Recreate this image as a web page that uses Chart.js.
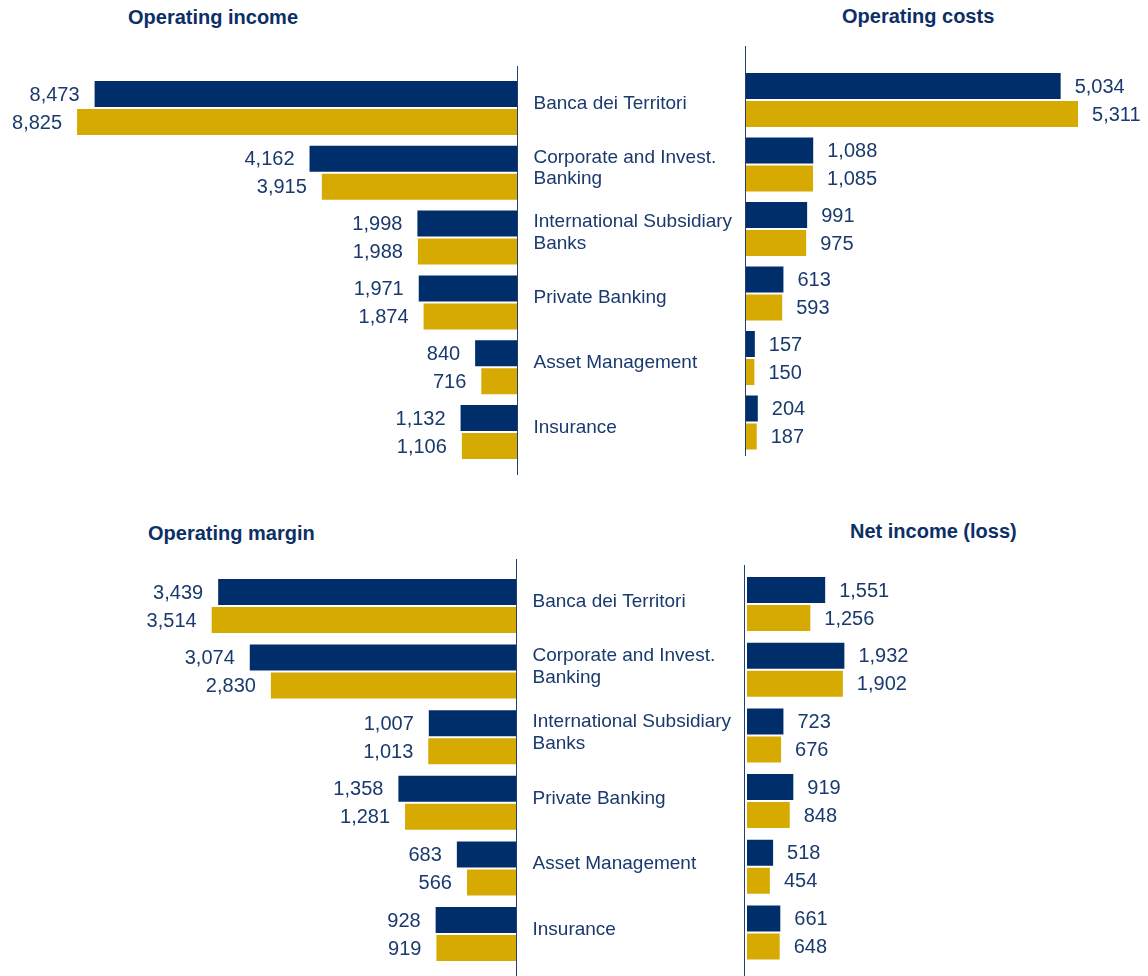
<!DOCTYPE html>
<html lang="en">
<head>
<meta charset="UTF-8">
<title>Divisional results</title>
<script src="https://cdn.jsdelivr.net/npm/chart.js"></script>
<style>
  body { margin: 0; background: #fff; }
  #wrap { position: relative; width: 1148px; height: 976px; overflow: hidden; }
  #wrap canvas { position: absolute; left: 0; top: 0; }
  .ttl { position: absolute; font: bold 20px/20px "Liberation Sans", Arial, sans-serif; color: #0c2f66; white-space: nowrap; }
</style>
</head>
<body>
<div id="wrap">
  <div class="ttl" style="left:128px;top:7px">Operating income</div>
  <div class="ttl" style="left:842px;top:6px">Operating costs</div>
  <div class="ttl" style="left:148px;top:523px">Operating margin</div>
  <div class="ttl" style="left:850px;top:521px">Net income (loss)</div>
  <canvas id="incomeChart" width="1148" height="976"></canvas>
  <canvas id="costsChart" width="1148" height="976"></canvas>
  <canvas id="marginChart" width="1148" height="976"></canvas>
  <canvas id="netChart" width="1148" height="976"></canvas>
</div>
<script>
const categories = [
  'Banca dei Territori',
  ['Corporate and Invest.', 'Banking'],
  ['International Subsidiary', 'Banks'],
  'Private Banking',
  'Asset Management',
  'Insurance'
];

const incomeCur = [8473, 4162, 1998, 1971, 840, 1132];
const incomePrev = [8825, 3915, 1988, 1874, 716, 1106];
const costsCur = [5034, 1088, 991, 613, 157, 204];
const costsPrev = [5311, 1085, 975, 593, 150, 187];
const marginCur = [3439, 3074, 1007, 1358, 683, 928];
const marginPrev = [3514, 2830, 1013, 1281, 566, 919];
const netCur = [1551, 1932, 723, 919, 518, 661];
const netPrev = [1256, 1902, 676, 848, 454, 648];

const BLUE = '#002e6b';
const GOLD = '#d6aa00';
const TEXT = '#1a3a6e';
const FONT = '"Liberation Sans", Arial, sans-serif';

Chart.defaults.font.family = FONT;

// numbers next to the end of each bar
const valueLabels = {
  id: 'valueLabels',
  afterDatasetsDraw(chart) {
    const ctx = chart.ctx;
    const toLeft = chart.options.scales.x.reverse;
    ctx.save();
    ctx.font = '20px ' + FONT;
    ctx.fillStyle = TEXT;
    ctx.textBaseline = 'middle';
    ctx.textAlign = toLeft ? 'right' : 'left';
    chart.data.datasets.forEach((ds, i) => {
      chart.getDatasetMeta(i).data.forEach((bar, j) => {
        const txt = ds.data[j].toLocaleString('en-US');
        ctx.fillText(txt, toLeft ? bar.x - 15 : bar.x + 14, bar.y + 1);
      });
    });
    ctx.restore();
  }
};

// the thin vertical base line, a bit longer than the plot area
const axisLine = {
  id: 'axisLine',
  afterDraw(chart, args, opts) {
    const a = chart.chartArea;
    const ctx = chart.ctx;
    const x = (opts.side === 'right' ? a.right : a.left) + opts.shift;
    ctx.save();
    ctx.strokeStyle = '#233f72';
    ctx.lineWidth = 1;
    ctx.beginPath();
    ctx.moveTo(x, a.top - opts.above);
    ctx.lineTo(x, a.bottom + opts.below);
    ctx.stroke();
    ctx.restore();
  }
};

function makeChart(id, cur, prev, max, left, padding, catPct, line) {
  return new Chart(document.getElementById(id), {
    type: 'bar',
    data: {
      labels: categories,
      datasets: [
        { label: 'Current', data: cur, backgroundColor: BLUE },
        { label: 'Previous', data: prev, backgroundColor: GOLD }
      ]
    },
    options: {
      indexAxis: 'y',
      responsive: false,
      animation: false,
      layout: { padding },
      datasets: { bar: { categoryPercentage: catPct, barPercentage: 26 / 28, borderWidth: 0 } },
      scales: {
        x: { type: 'linear', min: 0, max, reverse: left, display: false },
        y: left ? {
          position: 'right',
          grid: { display: false, drawTicks: false },
          border: { display: false },
          ticks: {
            color: TEXT,
            font: { size: 19, lineHeight: 1.15 },
            padding: 16.5,
            crossAlign: 'near',
            labelOffset: -4.5,
            autoSkip: false
          },
          afterFit: s => { s.width = 230; s.paddingTop = 0; s.paddingBottom = 0; }
        } : { display: false }
      },
      plugins: {
        legend: { display: false },
        tooltip: { enabled: false },
        axisLine: line
      }
    },
    plugins: [valueLabels, axisLine]
  });
}

makeChart('incomeChart', incomeCur, incomePrev, 10371, true,
  { left: 0, right: 401, top: 75.6, bottom: 511.6 }, 56 / 64.8,
  { side: 'right', shift: 0.5, above: 9.6, below: 10.6 });

makeChart('costsChart', costsCur, costsPrev, 6427, false,
  { left: 745, right: 0, top: 67.75, bottom: 521.25 }, 56 / 64.5,
  { side: 'left', shift: 0.5, above: 21.75, below: 1.25 });

makeChart('marginChart', marginCur, marginPrev, 5958, true,
  { left: 0, right: 402, top: 573.2, bottom: 9.2 }, 56 / 65.6,
  { side: 'right', shift: 0.5, above: 14.2, below: 9.2 });

makeChart('netChart', netCur, netPrev, 7956, false,
  { left: 747, right: 0, top: 571.15, bottom: 10.65 }, 56 / 65.7,
  { side: 'left', shift: -2.5, above: 6.15, below: 10.65 });
</script>
</body>
</html>
